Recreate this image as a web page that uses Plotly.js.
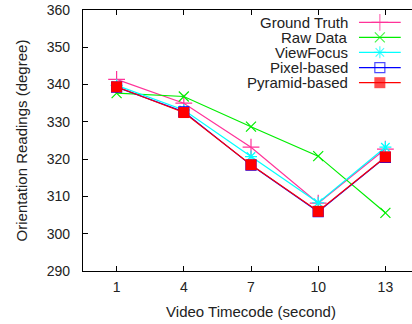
<!DOCTYPE html>
<html><head><meta charset="utf-8">
<script src="https://cdn.plot.ly/plotly-3.0.1.min.js"></script>
<style>html,body{margin:0;padding:0;overflow:hidden;background:#fff;}#c{width:420px;height:324px;}</style>
</head><body><div id="c"></div>
<script>
const timecodes = [1, 4, 7, 10, 13];
const groundTruth = [341.4, 335.0, 323.2, 308.2, 322.7];
const rawData = [337.7, 336.8, 328.7, 320.8, 305.6];
const viewFocus = [339.8, 333.2, 320.7, 308.3, 323.2];
const pixelBased = [339.3, 332.7, 318.4, 305.9, 320.5];
const pyramidBased = [339.4, 332.5, 318.5, 306.0, 320.6];
const seriesNames = ['Ground Truth', 'Raw Data', 'ViewFocus', 'Pixel-based', 'Pyramid-based'];
const yTicks = [290, 300, 310, 320, 330, 340, 350, 360];

const FONT = 'Liberation Sans, Arial, sans-serif';
const styles = [
  {color:'#ff3399', symbol:'cross-thin-open', size:12, lw:1.2},
  {color:'#00ee00', symbol:'x-thin-open', size:10, lw:1.2},
  {color:'#00ffff', symbol:'asterisk-open', size:10, lw:1.2},
  {color:'#0000ff', symbol:'square-open', size:10, lw:1.2},
  {color:'#ff0000', symbol:'square', size:11, lw:0}
];
const allSeries = [groundTruth, rawData, viewFocus, pixelBased, pyramidBased];
const traces = allSeries.map((ys, i) => ({
  x: timecodes, y: ys, type:'scatter', mode:'lines+markers', name: seriesNames[i],
  line:{color: styles[i].color, width:1.2},
  marker:{symbol: styles[i].symbol, size: styles[i].size, color: styles[i].color,
          line:{color: styles[i].color, width: styles[i].lw}},
  showlegend:false, cliponaxis:false
}));

// gnuplot-style key: text right-aligned, then a line sample with a marker
// (legend axes: x2 spans the sample width 0..1, y2 is in screen pixels)
const legendRowsPx = [22.3, 37.3, 52.3, 67.7, 82.7];
const annotations = [];
seriesNames.forEach((n, i) => {
  const s = styles[i];
  traces.push({
    x:[0, 0.5, 1], y:[legendRowsPx[i], legendRowsPx[i], legendRowsPx[i]],
    xaxis:'x2', yaxis:'y2', type:'scatter', mode:'lines+markers', showlegend:false,
    line:{color: s.color, width:1.2},
    marker:{symbol: s.symbol, size:[0, s.size, 0], color: s.color,
            line:{color: s.color, width: s.lw}},
    hoverinfo:'skip', cliponaxis:false
  });
  annotations.push({xref:'paper', yref:'paper', x:(349-83)/336, y:(271-legendRowsPx[i])/261,
    text:n, showarrow:false, xanchor:'right', yanchor:'middle', borderpad:0,
    font:{family:FONT, size:15, color:'#222'}});
});

const layout = {
  width:420, height:324,
  margin:{l:83, r:1, t:10, b:53},
  paper_bgcolor:'#fff', plot_bgcolor:'rgba(0,0,0,0)',
  font:{family:FONT, size:14, color:'#222'},
  showlegend:false,
  xaxis:{range:[-0.5, 14.5], tickvals: timecodes, ticktext: timecodes.map(String),
    ticks:'inside', ticklen:5, tickcolor:'#000', showline:true, linecolor:'#000', linewidth:1.2,
    mirror:'ticks', showgrid:false, zeroline:false, ticklabelstandoff:3,
    tickfont:{size:14},
    title:{text:'Video Timecode (second)', standoff:12, font:{size:15}}},
  yaxis:{range:[290, 360], tickvals: yTicks, ticks:'inside', ticklen:5, tickcolor:'#000',
    showline:true, linecolor:'#000', linewidth:1.2, mirror:'ticks', showgrid:false, zeroline:false,
    ticklabelstandoff:9, tickfont:{size:14},
    title:{text:'Orientation Readings (degree)', standoff:15, font:{size:15}}},
  xaxis2:{domain:[0.821, 0.946], range:[0,1], visible:false, fixedrange:true, anchor:'y2'},
  yaxis2:{domain:[0,1], range:[271, 10], visible:false, fixedrange:true, anchor:'x2'},
  annotations: annotations
};
Plotly.newPlot('c', traces, layout, {displayModeBar:false, staticPlot:true});
</script></body></html>
